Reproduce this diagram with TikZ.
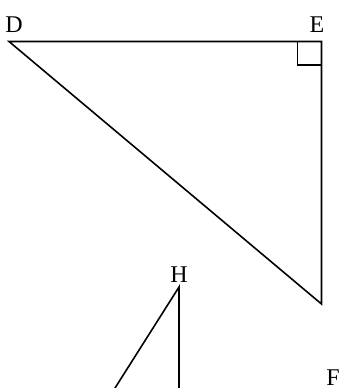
\documentclass[tikz,border=0pt]{standalone}
\usepackage{fontspec}
\setmainfont{Liberation Serif}
\usepackage{tikz}
\usetikzlibrary{calc}

\begin{document}
\begin{tikzpicture}[
  x=0.75pt, y=-0.75pt,
  edge/.style={
    draw=black,
    line width=1.2pt,
    line join=miter
  },
  vlabel/.style={
    font=\fontsize{18}{20}\selectfont,
    inner sep=0pt
  }
]
  \useasboundingbox (0,0) rectangle (341,388);

  % Triangle DEF (right angle at E)
  \coordinate (D) at (9,41.5);
  \coordinate (E) at (321.5,41.5);
  \coordinate (F) at (321.5,304);
  \draw[edge] (D) -- (E) -- (F) -- cycle;

  % right angle mark
  \draw[edge] ($(E)+(-24,0)$) -- ($(E)+(-24,23.5)$) -- ($(E)+(0,23.5)$);

  % Second triangle (partly shown)
  \coordinate (H) at (179,287);
  \coordinate (Hl) at (112.5,392);
  \coordinate (Hr) at (179,392);
  \draw[edge] (Hl) -- (H) -- (Hr);

  % Vertex labels
  \node[vlabel] (labD) at (14,25) {D};
  \node[vlabel] (labE) at (317,25) {E};
  \node[vlabel] (labH) at (179,275) {H};
  \node[vlabel] (labF) at (333,377.5) {F};

\end{tikzpicture}
\end{document}
